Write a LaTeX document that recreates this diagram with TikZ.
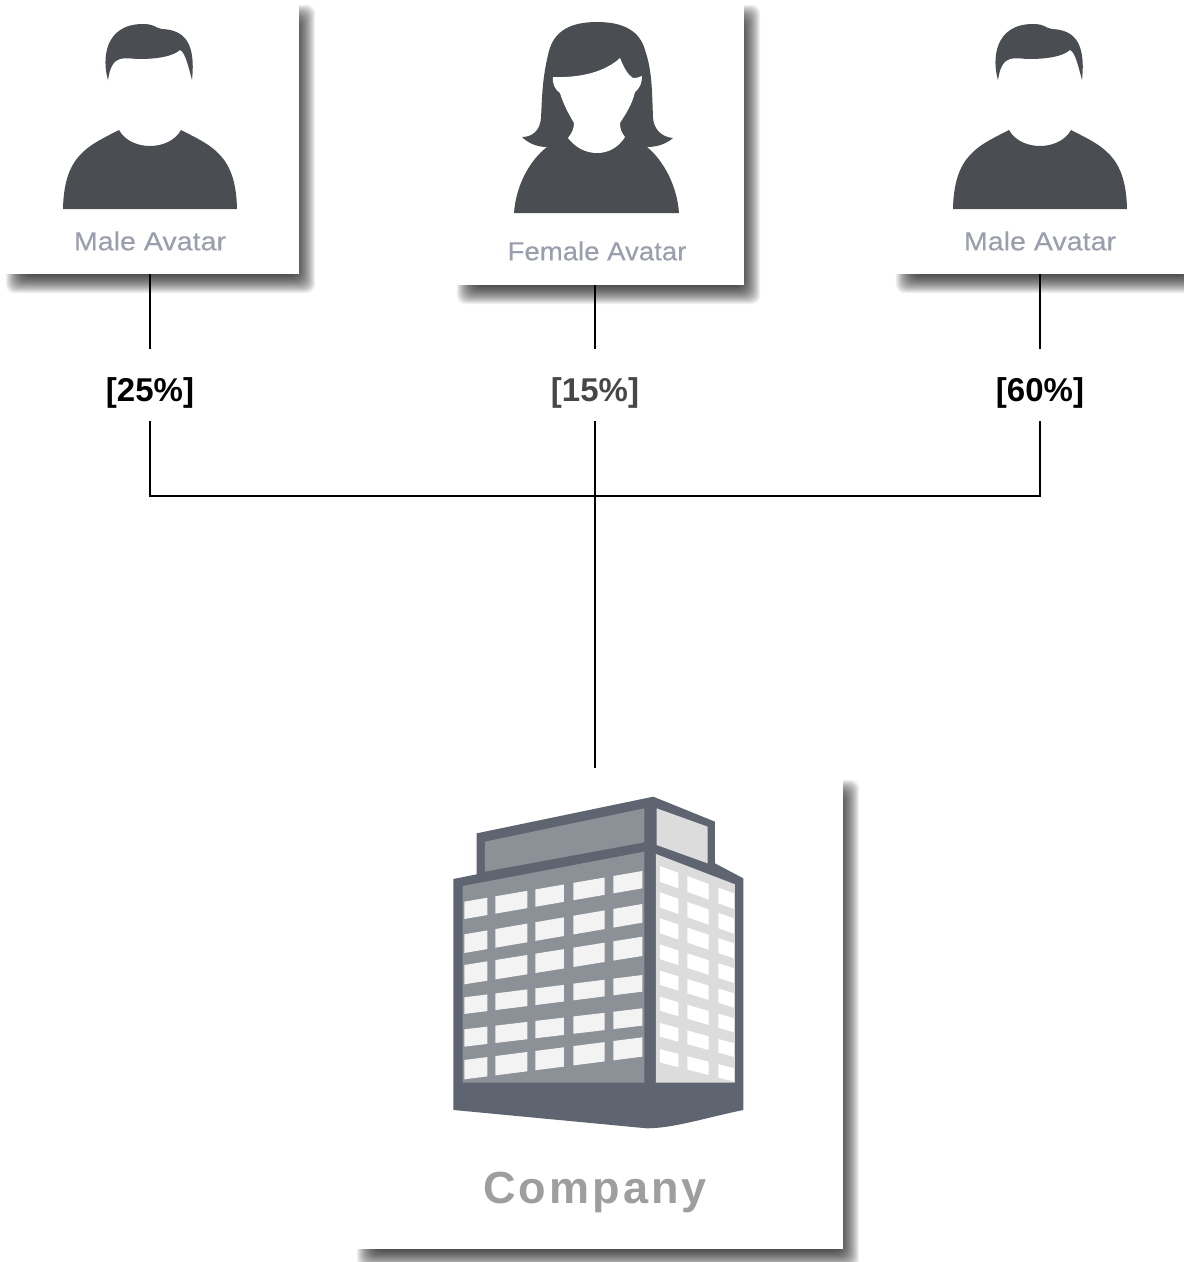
\documentclass[tikz,border=0pt]{standalone}
\usepackage{fontspec}
\setmainfont{Liberation Sans}
\usepackage{tikz, pgf}
\usetikzlibrary{backgrounds}

\definecolor{avatardark}{HTML}{4A4D51}
\definecolor{captiongrey}{HTML}{9A9EAD}
\definecolor{walldark}{HTML}{5F6570}
\definecolor{wallmid}{HTML}{8C9097}
\definecolor{walllight}{HTML}{DCDCDC}
\definecolor{windowwhite}{HTML}{F3F3F3}

\tikzset{
    card/.style={fill=white, inner sep=0pt, minimum width=#1},
    caption/.style={text=captiongrey, font=\fontsize{26}{30}\selectfont\addfontfeature{FakeStretch=#1,FakeBold=0.25}},
    percent/.style={font=\bfseries\fontsize{33}{36}\selectfont, text height=52pt, text depth=20pt, inner sep=0pt},
    conn/.style={draw=black, line width=1.8pt},
    maleavatar/.pic={
        \fill[avatardark] (-42,80) .. controls (-48,60) and (-46,24) .. (-7,24)
            .. controls (5,24) and (5,28) .. (12,29)
            .. controls (34,30) and (46,42) .. (42,80)
            .. controls (38,65) and (35,52) .. (30,50)
            .. controls (22,57) and (5,59) .. (-10,59)
            .. controls (-25,59) and (-38,52) .. cycle;
        \fill[avatardark] (-87,209) .. controls (-86,155) and (-62,146) .. (-31,130)
            .. controls (-25,141) and (-12,146) .. (0,146)
            .. controls (12,146) and (25,141) .. (31,130)
            .. controls (62,146) and (86,155) .. (87,209) -- cycle;
    }
}

\newcommand{\cardshadow}[1]{
    \begin{pgfonlayer}{background}
        \foreach \grow in {-9,...,9}
            \fill[black, opacity=0.06, rounded corners=9pt]
                ([xshift=14pt-\grow pt, yshift=-10pt-\grow pt]#1.south west)
                rectangle ([xshift=7pt+\grow pt, yshift=-14pt+\grow pt]#1.north east);
    \end{pgfonlayer}
}

\begin{document}
\begin{tikzpicture}[x=1pt, y=-1pt]
    \useasboundingbox (0,0) rectangle (1184,1262);

    % cards
    \node[card=298pt, minimum height=274pt] (male1) at (150,137) {};
    \node[card=292pt, minimum height=285pt] (female) at (598,142.5) {};
    \node[card=298pt, minimum height=274pt] (male2) at (1040,137) {};
    \node[card=491pt, minimum height=474pt] (company) at (597.5,1012) {};
    \cardshadow{male1}
    \cardshadow{female}
    \cardshadow{male2}
    \cardshadow{company}

    % avatars
    \pic at (150,0) {maleavatar};
    \pic at (1040,0) {maleavatar};
    \fill[avatardark] (597,22) .. controls (565,22) and (552,35) .. (548,55)
        .. controls (542,80) and (542,100) .. (541,118)
        .. controls (540,130) and (533,137) .. (522,137)
        .. controls (530,145) and (540,147) .. (547,147)
        .. controls (530,160) and (516,185) .. (514,213) -- (679,213)
        .. controls (677,185) and (663,160) .. (647,147)
        .. controls (655,147) and (665,145) .. (673,138)
        .. controls (662,137) and (654,130) .. (653,118)
        .. controls (652,90) and (652,70) .. (645,50)
        .. controls (640,32) and (625,22) .. cycle;
    \fill[white] (553,77) .. controls (580,78) and (605,72) .. (620,58)
        .. controls (624,68) and (628,75) .. (633,78)
        .. controls (637,78) and (640,77) .. (642,76)
        .. controls (642,83) and (640,88) .. (635,92)
        .. controls (632,105) and (625,115) .. (620,123)
        .. controls (620,130) and (622,133) .. (625,137)
        .. controls (618,148) and (608,153) .. (597,153)
        .. controls (585,153) and (575,147) .. (568,138)
        .. controls (572,133) and (574,128) .. (574,123)
        .. controls (568,113) and (563,103) .. (560,93)
        .. controls (555,90) and (552,83) .. cycle;

    % building
    \begin{scope}[shift={(430,780)}, x=0.3333pt, y=-0.3333pt]
        \fill[walldark] (140,283) -- (140,160) -- (670,50) -- (855,125) -- (855,250) -- (940,295)
            -- (940,990) .. controls (820,1015) and (730,1045) .. (650,1045) -- (70,990) -- (70,297) -- cycle;
        \fill[wallmid] (165,185) -- (643,85) -- (643,187) -- (165,275) -- cycle;
        \fill[walllight] (680,85) -- (833,140) -- (833,250) -- (680,195) -- cycle;
        \fill[wallmid] (98,318) -- (643,215) -- (643,908) -- (98,908) -- cycle;
        \fill[walllight] (678,222) -- (915,313) -- (915,908) -- (678,908) -- cycle;
        % front windows: row top at x=103 and x=637, row height
        \foreach \yl/\yr/\h in {365/273/52, 463/372/56, 555/470/58, 652/585/50, 748/685/52, 840/772/58}
            \foreach \xa/\xb in {103/172, 196/292, 316/402, 430/524, 550/637} {
                \pgfmathsetmacro{\ya}{\yl+(\yr-\yl)/534*(\xa-103)}
                \pgfmathsetmacro{\yb}{\yl+(\yr-\yl)/534*(\xb-103)}
                \fill[windowwhite] (\xa,\ya) -- (\xb,\yb) -- (\xb,\yb+\h) -- (\xa,\ya+\h) -- cycle;
            }
        % side windows
        \foreach \i in {0,...,7}
            \foreach \xa/\xb in {690/745, 772/836, 865/912} {
                \pgfmathsetmacro{\ya}{258+\i*78.5+(\xa-690)*(0.37-\i*0.016)}
                \pgfmathsetmacro{\yb}{258+\i*78.5+(\xb-690)*(0.37-\i*0.016)}
                \pgfmathsetmacro{\h}{47-\i}
                \fill[white] (\xa,\ya) -- (\xb,\yb) -- (\xb,\yb+\h) -- (\xa,\ya+\h) -- cycle;
            }
    \end{scope}

    % captions
    \node[caption=1.1] (cap1) at (150,241) {Male Avatar};
    \node[caption=1.06] (cap2) at (597,251) {Female Avatar};
    \node[caption=1.1] (cap3) at (1040,241) {Male Avatar};
    \node[text=black!38, font=\bfseries\fontsize{45}{48}\selectfont\addfontfeature{LetterSpace=7}] (cap4) at (595,1192) {Company};

    % percentages
    \node[percent] (pct1) at (150,385) {[25\%]};
    \node[percent, text=black!72] (pct2) at (595,385) {[15\%]};
    \node[percent] (pct3) at (1040,385) {[60\%]};

    \coordinate (join1) at (150,496);
    \coordinate (join3) at (1040,496);

    % connectors
    \draw[conn] (male1.south -| pct1) -- (pct1);
    \draw[conn] (female.south -| pct2) -- (pct2);
    \draw[conn] (male2.south -| pct3) -- (pct3);
    \draw[conn] (pct1) -- (join1) -- (join3) -- (pct3);
    \draw[conn, shorten >=7pt] (pct2) -- (pct2 |- company.north);
\end{tikzpicture}
\end{document}
